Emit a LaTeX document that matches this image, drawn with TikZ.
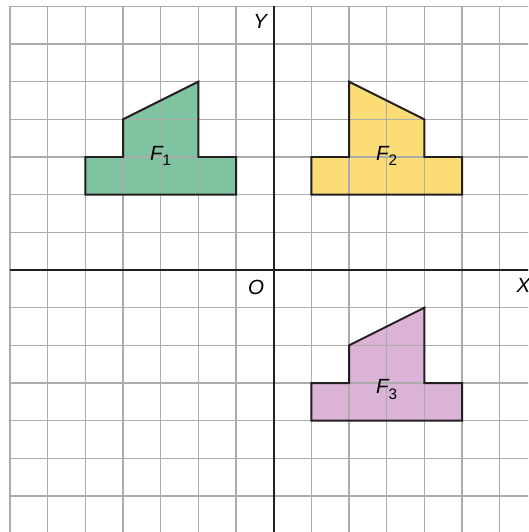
\documentclass[tikz,border=0pt]{standalone}
\usepackage{fontspec}
\setmainfont{Liberation Sans}
\definecolor{gridgray}{RGB}{172,172,172}
\definecolor{axisblack}{RGB}{35,31,32}
\definecolor{fgreen}{RGB}{127,196,160}
\definecolor{fyellow}{RGB}{252,220,116}
\definecolor{fpink}{RGB}{218,179,214}
\newcommand{\flab}[1]{{\itshape F}\raisebox{-0.55ex}{\fontsize{11.5}{12}\selectfont #1}}
\begin{document}
\begin{tikzpicture}[x=1cm,y=1cm,
  gridline/.style={draw=gridgray,line width=0.9pt},
  axisline/.style={draw=axisblack,line width=1.5pt},
  shapeline/.style={draw=axisblack,line width=1.5pt,line join=miter},
  lab/.style={font=\fontsize{15.5}{18}\selectfont\itshape,inner sep=0pt,anchor=base},
  flabel/.style={font=\fontsize{15.5}{18}\selectfont,inner sep=0pt,anchor=base}]
\useasboundingbox (-7.266,-6.955) rectangle (6.751,7.168);
\clip (-7.266,-6.955) rectangle (6.751,7.168);
% fills
\fill[fgreen] (-5,3) -- (-4,3) -- (-4,4) -- (-2,5) -- (-2,3) -- (-1,3) -- (-1,2) -- (-5,2) -- cycle;
\fill[fyellow] (1,3) -- (2,3) -- (2,5) -- (4,4) -- (4,3) -- (5,3) -- (5,2) -- (1,2) -- cycle;
\fill[fpink] (1,-3) -- (2,-3) -- (2,-2) -- (4,-1) -- (4,-3) -- (5,-3) -- (5,-4) -- (1,-4) -- cycle;
% grid
\draw[gridline] (-7,-7.5) grid (7.5,7);
% axes
\draw[axisline] (-7,0) -- (7,0);
\draw[axisline] (0,7) -- (0,-7.5);
% outlines
\draw[shapeline] (-5,3) -- (-4,3) -- (-4,4) -- (-2,5) -- (-2,3) -- (-1,3) -- (-1,2) -- (-5,2) -- cycle;
\draw[shapeline] (1,3) -- (2,3) -- (2,5) -- (4,4) -- (4,3) -- (5,3) -- (5,2) -- (1,2) -- cycle;
\draw[shapeline] (1,-3) -- (2,-3) -- (2,-2) -- (4,-1) -- (4,-3) -- (5,-3) -- (5,-4) -- (1,-4) -- cycle;
% labels
\node[lab] (ylab) at (-0.36,6.40) {Y};
\node[lab] (olab) at (-0.47,-0.66) {O};
\node[lab] (xlab) at (6.63,-0.61) {X};
\node[flabel] (f1) at (-3.0,2.92) {\flab{1}};
\node[flabel] (f2) at (3.0,2.92) {\flab{2}};
\node[flabel] (f3) at (3.0,-3.27) {\flab{3}};
\end{tikzpicture}
\end{document}
